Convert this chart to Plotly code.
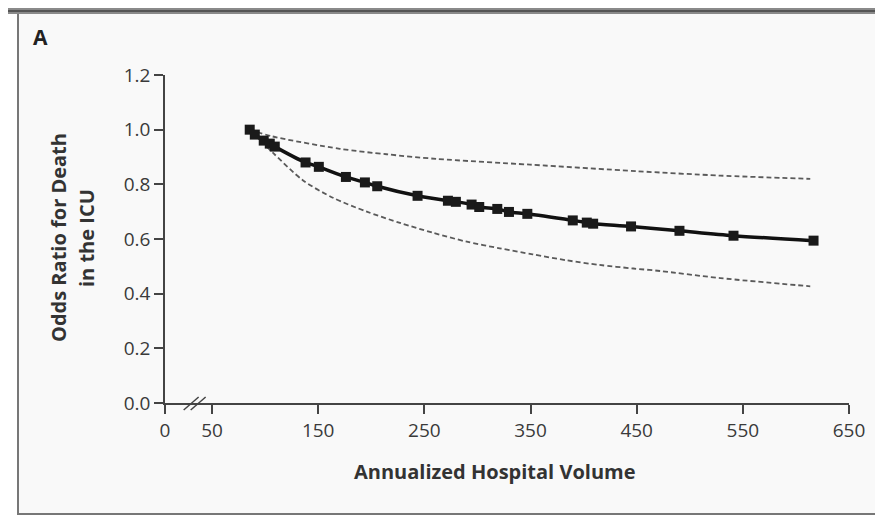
import plotly.graph_objects as go

# ---- data ----
volume = [85.5, 90.3, 98.7, 104.4, 109.1, 138.1, 150.6, 176.1, 194.0, 205.6,
          243.6, 272.2, 279.7, 294.5, 301.7, 318.7, 329.7, 347.0, 389.8,
          403.0, 409.0, 444.7, 490.3, 541.2, 616.6]
odds_ratio = [1.000, 0.982, 0.960, 0.949, 0.938, 0.880, 0.864, 0.827, 0.807, 0.793,
              0.758, 0.740, 0.736, 0.726, 0.717, 0.710, 0.699, 0.692, 0.668,
              0.660, 0.656, 0.646, 0.630, 0.612, 0.594]

ci_upper_volume = [85.5, 107.2, 170.4, 214.4, 261.6, 349.5, 450.1, 528.6, 613.5]
ci_upper = [1.000, 0.975, 0.930, 0.910, 0.893, 0.872, 0.848, 0.832, 0.820]
ci_lower_volume = [85.5, 107.5, 135.5, 163.8, 195.8, 227.0, 258.0, 290.0, 321.0,
                   352.0, 384.0, 415.0, 447.0, 472.0, 528.6, 613.5]
ci_lower = [1.000, 0.915, 0.815, 0.751, 0.700, 0.659, 0.623, 0.590, 0.566,
            0.544, 0.522, 0.505, 0.492, 0.483, 0.457, 0.427]

x_tick_vals = [5.7, 50, 150, 250, 350, 450, 550, 650]
x_tick_text = ["0", "50", "150", "250", "350", "450", "550", "650"]
y_tick_vals = [0.0, 0.2, 0.4, 0.6, 0.8, 1.0, 1.2]
y_tick_text = ["0.0", "0.2", "0.4", "0.6", "0.8", "1.0", "1.2"]

FONT = "Open Sans"
OFF = 8  # page body margin
W, H = 883 - OFF, 516 - OFF
# plot area in page pixels: x 165..849, y 75..403
ML = 165 - OFF
MR = W - (849 - OFF)
MT = 75 - OFF
MB = H - (403 - OFF)
PW, PH = W - ML - MR, H - MT - MB


def px_x(p):
    return (p - OFF - ML) / PW


def px_y(p):
    return (H - MB - (p - OFF)) / PH


fig = go.Figure()

for cx, cy in ((ci_upper_volume, ci_upper), (ci_lower_volume, ci_lower)):
    fig.add_trace(go.Scatter(
        x=cx, y=cy, mode="lines",
        line=dict(color="#5a5a5a", width=1.8, dash="5px,3px", shape="spline", smoothing=0.8),
        hoverinfo="skip", showlegend=False))

fig.add_trace(go.Scatter(
    x=volume, y=odds_ratio, mode="lines+markers",
    line=dict(color="#111111", width=3.5, shape="spline", smoothing=0.8),
    marker=dict(symbol="square", size=10, color="#1a1a1a"),
    cliponaxis=False, showlegend=False))

shapes = [
    # panel frame
    dict(type="rect", xref="paper", yref="paper", layer="below",
         x0=px_x(18), x1=px_x(900), y0=px_y(514), y1=px_y(12),
         fillcolor="#f9f9f9", line=dict(color="#777777", width=2)),
    dict(type="rect", xref="paper", yref="paper", layer="below",
         x0=px_x(-10), x1=px_x(900), y0=px_y(14), y1=px_y(8),
         fillcolor="#8a8a8a", line=dict(width=0)),
    dict(type="line", xref="paper", yref="paper", layer="below",
         x0=px_x(-10), x1=px_x(900), y0=px_y(11), y1=px_y(11),
         line=dict(color="#555555", width=2)),
    # axis break marks
    dict(type="line", xref="x", yref="paper", x0=23.3, x1=37.4,
         y0=px_y(410), y1=px_y(397), line=dict(color="#444444", width=1.5)),
    dict(type="line", xref="x", yref="paper", x0=29.9, x1=44.0,
         y0=px_y(410), y1=px_y(397), line=dict(color="#444444", width=1.5)),
]

annotations = [
    dict(text="<b>A</b>", xref="paper", yref="paper", x=px_x(31), y=px_y(37),
         xanchor="left", yanchor="middle", showarrow=False,
         font=dict(family=FONT, size=21, color="#222222")),
    dict(text="<b>Odds Ratio for Death</b>", xref="paper", yref="paper",
         x=px_x(58), y=px_y(238), textangle=-90, showarrow=False,
         xanchor="center", yanchor="middle",
         font=dict(family=FONT, size=20, color="#333333")),
    dict(text="<b>in the ICU</b>", xref="paper", yref="paper",
         x=px_x(86), y=px_y(238), textangle=-90, showarrow=False,
         xanchor="center", yanchor="middle",
         font=dict(family=FONT, size=20, color="#333333")),
    dict(text="<b>Annualized Hospital Volume</b>", xref="paper", yref="paper",
         x=px_x(494), y=px_y(471), showarrow=False,
         xanchor="center", yanchor="middle",
         font=dict(family=FONT, size=20, color="#333333")),
]

fig.update_layout(
    width=W, height=H,
    margin=dict(l=ML, r=MR, t=MT, b=MB),
    paper_bgcolor="white", plot_bgcolor="#f9f9f9",
    shapes=shapes, annotations=annotations,
    xaxis=dict(range=[5.7, 650], tickvals=x_tick_vals, ticktext=x_tick_text,
               showgrid=False, zeroline=False, showline=True,
               linecolor="#444444", linewidth=1.5,
               ticks="outside", ticklen=9, tickwidth=1.5, tickcolor="#444444",
               tickfont=dict(family=FONT, size=19, color="#3a3a3a")),
    yaxis=dict(range=[0, 1.2], tickvals=y_tick_vals, ticktext=y_tick_text,
               showgrid=False, zeroline=False, showline=True,
               linecolor="#444444", linewidth=1.5,
               ticks="outside", ticklen=9, tickwidth=1.5, tickcolor="#444444",
               tickfont=dict(family=FONT, size=19, color="#3a3a3a")),
)

fig.write_html("out.html")
